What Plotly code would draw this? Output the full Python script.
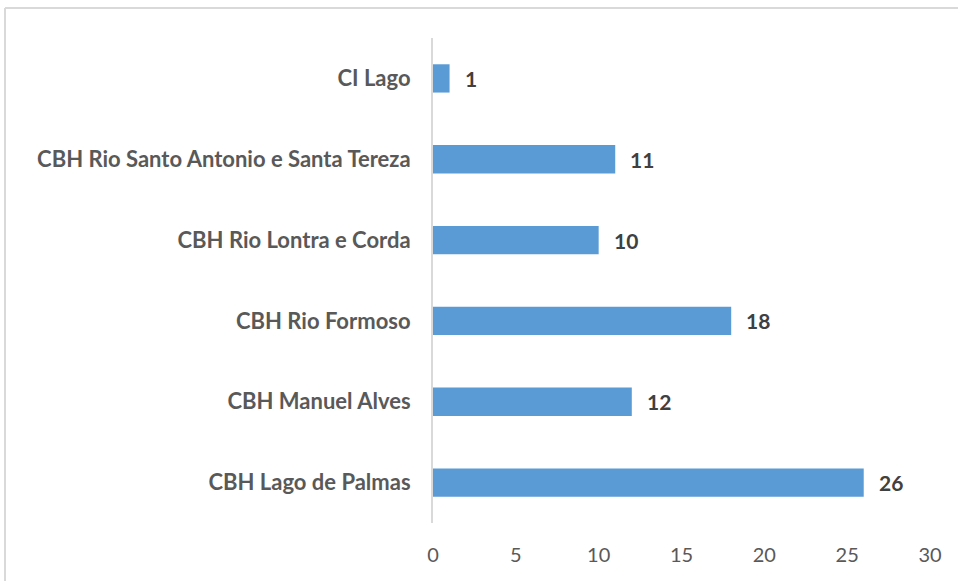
import plotly.graph_objects as go

categories = [
    "CBH Lago de Palmas",
    "CBH Manuel Alves",
    "CBH Rio Formoso",
    "CBH Rio Lontra e Corda",
    "CBH Rio Santo Antonio e Santa Tereza",
    "CI Lago",
]
values = [26, 12, 18, 10, 11, 1]
x_ticks = [0, 5, 10, 15, 20, 25, 30]

W, H = 958, 581
ml, mr, mt, mb = 433, 28, 38, 58
pw, ph = W - ml - mr, H - mt - mb

fig = go.Figure(go.Bar(
    x=values, y=categories, orientation="h",
    marker=dict(color="#5B9BD5", line=dict(width=0)),
    width=0.35, hoverinfo="x+y",
))

# data labels to the right of each bar
for c, v in zip(categories, values):
    fig.add_annotation(x=v, y=c, text=f"<b>{v}</b>", showarrow=False,
                       xanchor="left", xshift=13,
                       font=dict(family="Lato", size=21, color="#404040"))

# outer chart border (only top and left edges visible in the crop)
bx = (5 - ml) / pw
by = 1 + (mt - 8) / ph
fig.add_shape(type="line", xref="paper", yref="paper", x0=bx, x1=(W + 10 - ml) / pw,
              y0=by, y1=by, line=dict(color="#D9D9D9", width=2))
fig.add_shape(type="line", xref="paper", yref="paper", x0=bx, x1=bx,
              y0=by, y1=-0.2, line=dict(color="#D9D9D9", width=2))

fig.update_layout(
    width=W, height=H,
    margin=dict(l=ml, r=mr, t=mt, b=mb),
    paper_bgcolor="white", plot_bgcolor="white",
    font=dict(family="Lato", size=20, color="#595959"),
    showlegend=False,
    xaxis=dict(range=[0, 30], tickvals=x_ticks, showgrid=False, zeroline=False,
               showline=False, ticks="", ticklabelstandoff=18,
               tickfont=dict(size=20, color="#595959")),
    yaxis=dict(showgrid=False, zeroline=False, showline=True, linecolor="#D9D9D9",
               linewidth=2, ticks="", ticklabelstandoff=16,
               tickfont=dict(size=22, color="#595959", weight="bold")),
)

fig.write_html("out.html", config={"displayModeBar": False},
               post_script="document.body.style.margin='0';")
